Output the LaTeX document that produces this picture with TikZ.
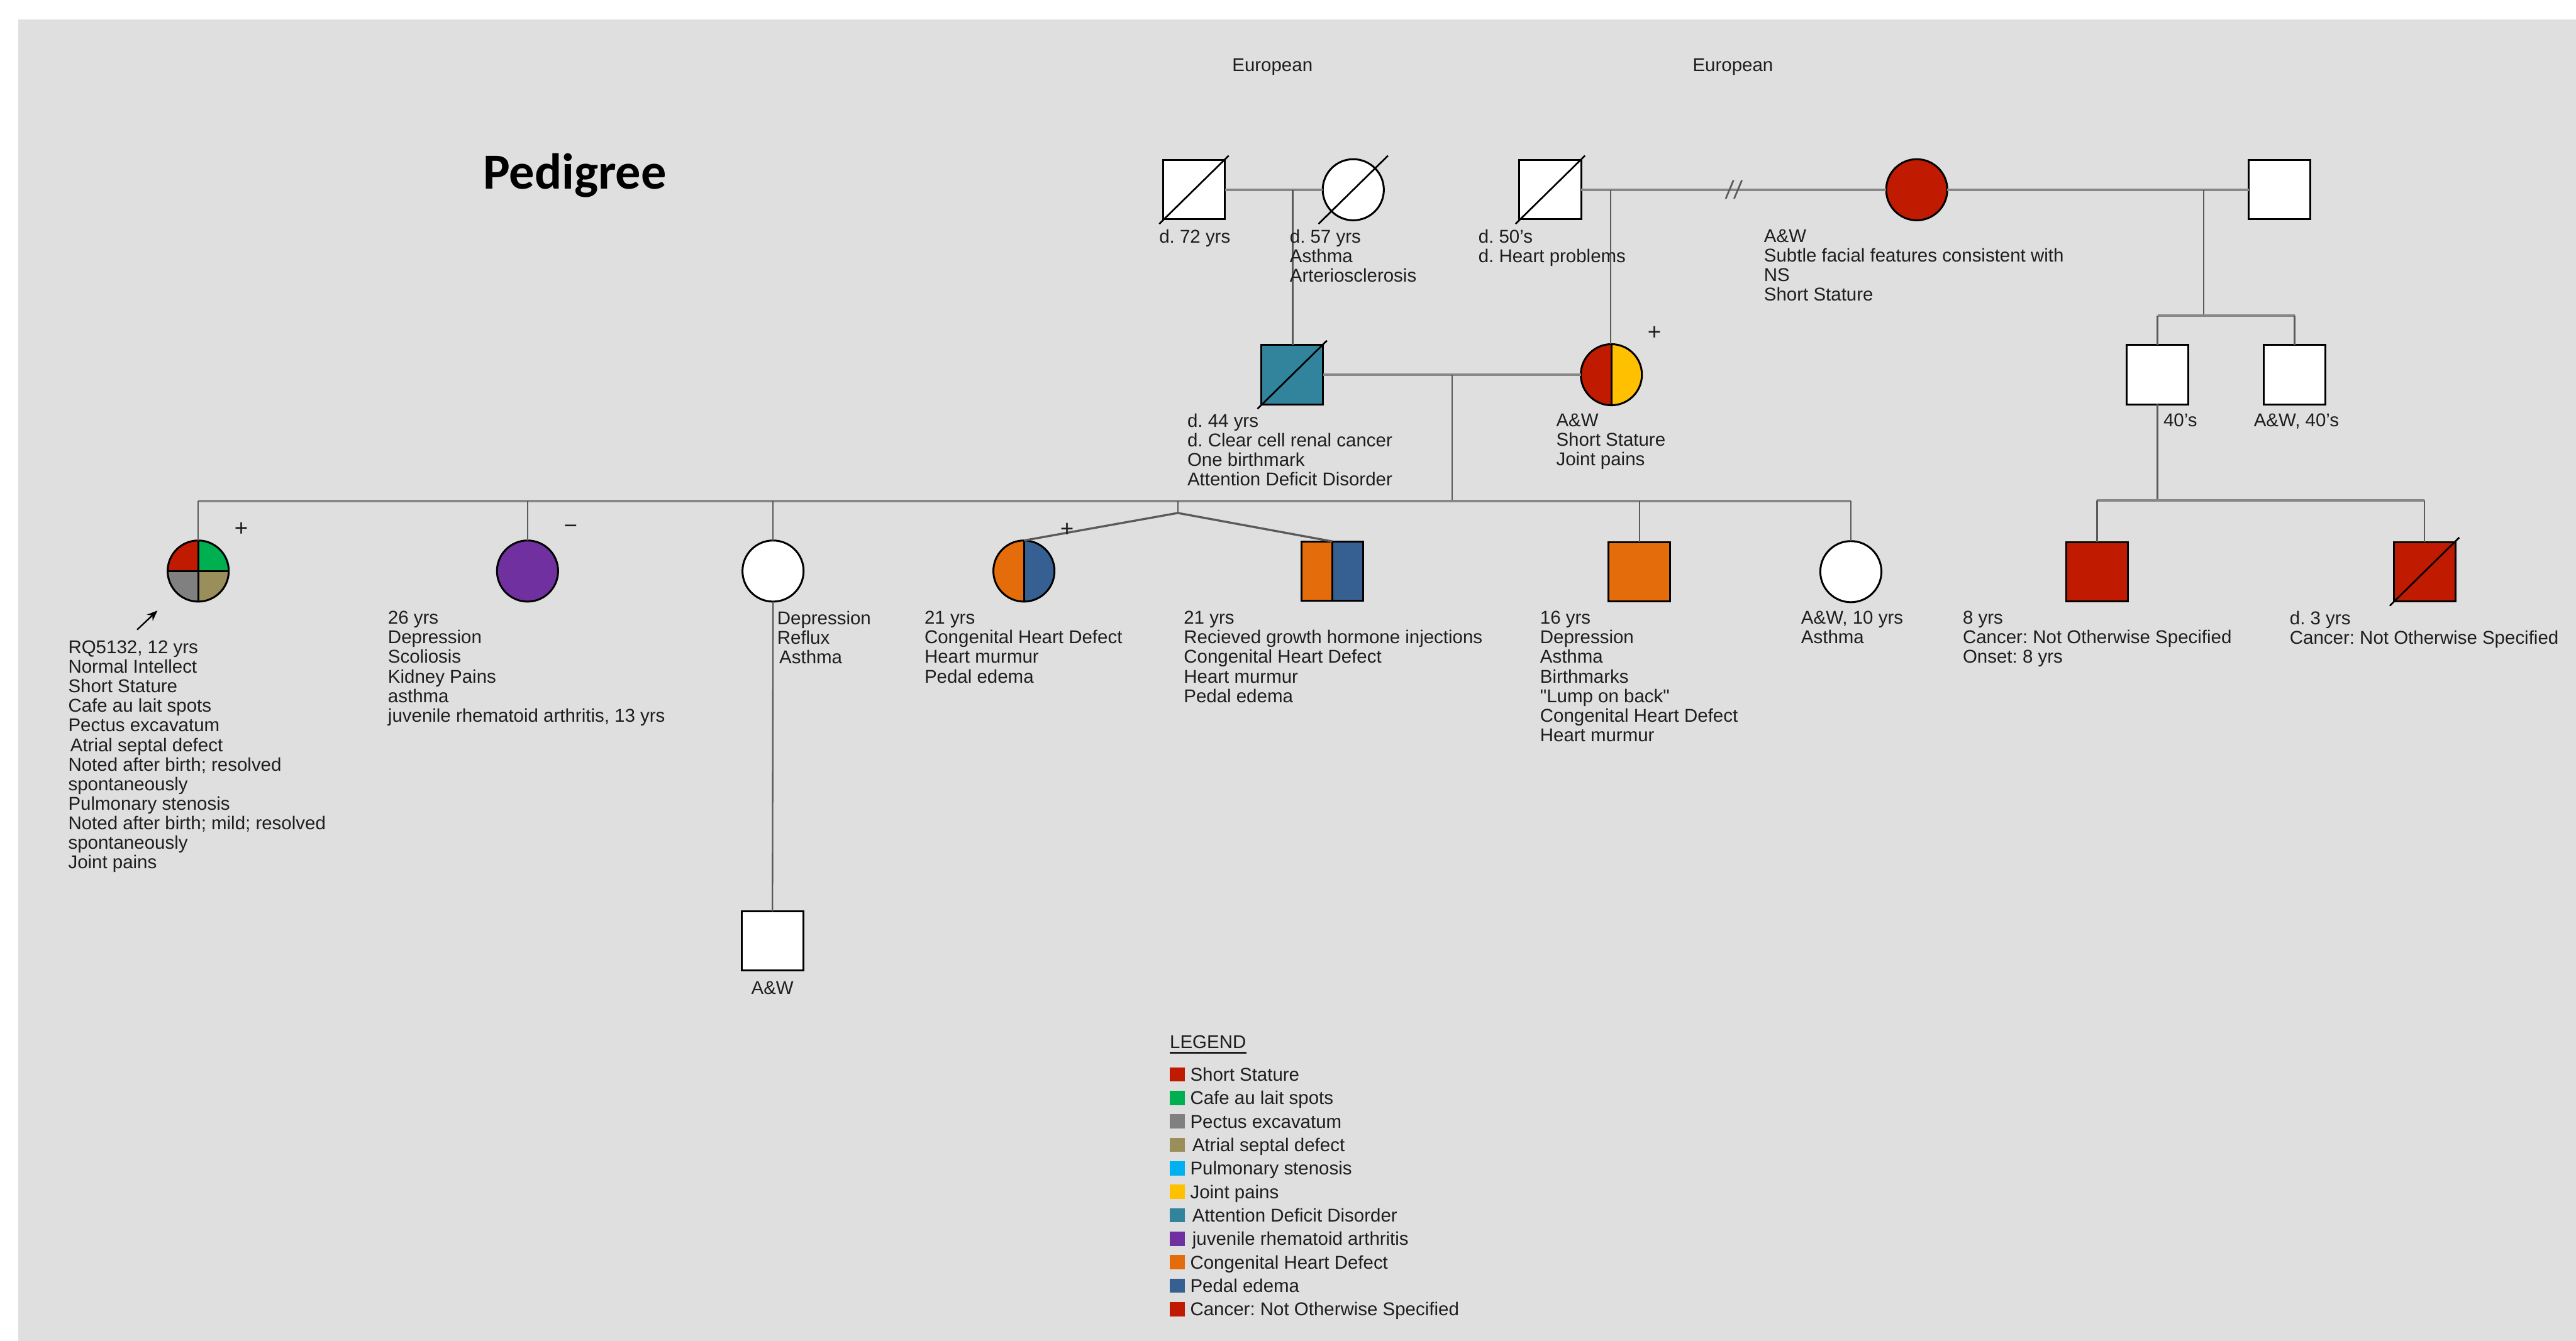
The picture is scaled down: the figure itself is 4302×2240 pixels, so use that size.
\documentclass[tikz,border=0pt]{standalone}
\usepackage{fontspec}
\setmainfont{Liberation Sans}
\newfontfamily\titlefont{Carlito}
\usetikzlibrary{calc,arrows.meta}
\definecolor{bg}{HTML}{DFDFDF}
\definecolor{txt}{HTML}{1E1E1E}
\definecolor{ssred}{HTML}{C01A00}
\definecolor{cafe}{HTML}{00B050}
\definecolor{pectus}{HTML}{808080}
\definecolor{asd}{HTML}{9A8F5A}
\definecolor{pulm}{HTML}{00B0F0}
\definecolor{joint}{HTML}{FFC000}
\definecolor{addc}{HTML}{31849B}
\definecolor{jra}{HTML}{7030A0}
\definecolor{chd}{HTML}{E46C0A}
\definecolor{pedal}{HTML}{376092}
\definecolor{cancer}{HTML}{C01A00}
\definecolor{cpl}{HTML}{878787}
\definecolor{dsc}{HTML}{5A5A5A}
\newcommand\lblfont{\fontsize{8.8}{9.3}\selectfont}
\frenchspacing
\begin{document}
\begin{tikzpicture}[x=0.01cm,y=-0.01cm,
  sym/.style={draw=black, line width=0.9pt, inner sep=0pt, outer sep=0pt, fill=white},
  male/.style={sym, rectangle, minimum width=1.03cm, minimum height=0.99cm},
  female/.style={sym, circle, minimum size=1.02cm},
  halves/.style 2 args={path picture={
     \fill[#1] (path picture bounding box.south west) rectangle (path picture bounding box.north);
     \fill[#2] (path picture bounding box.south) rectangle (path picture bounding box.north east);
     \draw[line width=0.9pt] (path picture bounding box.north) -- (path picture bounding box.south);}},
  quarters/.style n args={4}{path picture={
     \fill[#1] (path picture bounding box.center) rectangle (path picture bounding box.north west);
     \fill[#2] (path picture bounding box.center) rectangle (path picture bounding box.north east);
     \fill[#3] (path picture bounding box.center) rectangle (path picture bounding box.south west);
     \fill[#4] (path picture bounding box.center) rectangle (path picture bounding box.south east);
     \draw[line width=0.9pt] (path picture bounding box.north) -- (path picture bounding box.south)
        (path picture bounding box.west) -- (path picture bounding box.east);}},
  couple/.style={draw=cpl, line width=1.3pt},
  sibline/.style={draw=cpl, line width=1.3pt},
  desc/.style={draw=dsc, line width=0.7pt},
  twinline/.style={draw=dsc, line width=1.0pt},
  slash/.style={draw=black, line width=0.8pt},
  lbl/.style={anchor=north west, align=left, inner sep=0pt, outer sep=0pt, font=\lblfont, text=txt},
  sign/.style={inner sep=0pt, font=\fontsize{11}{11}\selectfont, text=txt},
  lgbox/.style={inner sep=0pt, minimum width=0.25cm, minimum height=0.24cm},
  lgtxt/.style={anchor=base west, inner sep=0pt, font=\lblfont, text=txt}
]
\useasboundingbox (0,0) rectangle (4302,2240);
\fill[bg] (30,33) rectangle (4302,2240);

% title and ethnicity
\node[anchor=base, inner sep=0pt, font=\titlefont\bfseries\fontsize{24}{24}\selectfont] (title) at (960,316) {Pedigree};
\node[anchor=base, inner sep=0pt, font=\lblfont, text=txt] (eu1) at (2125,119) {European};
\node[anchor=base, inner sep=0pt, font=\lblfont, text=txt] (eu2) at (2894,119) {European};

% generation I
\node[male] (gf1) at (1994,317) {};
\node[female] (gm1) at (2260,317) {};
\node[male] (gf2) at (2589,317) {};
\node[female, fill=ssred] (gm2) at (3201,317) {};
\node[male] (p2) at (3807,317) {};

% generation II
\node[male, fill=addc] (fa) at (2158,626) {};
\node[female, halves={ssred}{joint}] (mo) at (2691,626) {};
\node[male] (u1) at (3603,626) {};
\node[male] (u2) at (3832,626) {};

% generation III
\node[female, quarters={ssred}{cafe}{pectus}{asd}] (pr) at (331,954) {};
\node[female, fill=jra] (s2) at (881,954) {};
\node[female] (s3) at (1291,954) {};
\node[female, halves={chd}{pedal}] (t1) at (1710,954) {};
\node[male, halves={chd}{pedal}] (t2) at (2225,954) {};
\node[male, fill=chd] (s6) at (2738,955) {};
\node[female] (s7) at (3091,955) {};
\node[male, fill=cancer] (k1) at (3502,955) {};
\node[male, fill=cancer] (k2) at (4049,955) {};

% generation IV
\node[male] (g4) at (1290,1572) {};

% deceased slashes
\foreach \n in {gf1,gm1,gf2,fa,k2}{
  \draw[slash] ($(\n.center)+(-58,57)$) -- ($(\n.center)+(58,-57)$);
}

% couples
\draw[couple] (gf1.east) -- (gm1.west);
\draw[couple] (gf2.east) -- (gm2.west);
\draw[couple] (gm2.east) -- (p2.west);
\draw[couple] (fa.east) -- (mo.west);
% divorce marks
\coordinate (dv1a) at (2882,332); \coordinate (dv1b) at (2895,301);
\coordinate (dv2a) at (2896,332); \coordinate (dv2b) at (2909,301);
\draw[draw=dsc, line width=0.8pt] (dv1a) -- (dv1b) (dv2a) -- (dv2b);

% descents
\coordinate (d1) at (2159,317);
\draw[desc] (d1) -- (d1 |- fa.north);
\coordinate (d2) at (2690,317);
\draw[desc] (d2) -- (d2 |- mo.north);
\coordinate (d3) at (3680,317);
\coordinate (sb3) at (3680,527);
\draw[desc] (d3) -- (sb3);
\draw[sibline] (u1.north |- sb3) -- (u2.north |- sb3);
\draw[desc] (u1.north |- sb3) -- (u1.north);
\draw[desc] (u2.north |- sb3) -- (u2.north);

\coordinate (sb4) at (3603,836);
\draw[desc] (u1.south) -- (u1.south |- sb4);
\draw[sibline] (k1.north |- sb4) -- (k2.north |- sb4);
\draw[desc] (k1.north |- sb4) -- (k1.north);
\draw[desc] (k2.north |- sb4) -- (k2.north);

\coordinate (d5) at (2425,626);
\coordinate (sb5) at (2425,837);
\draw[desc] (d5) -- (sb5);
\draw[sibline] (pr.north |- sb5) -- (s7.north |- sb5);
\foreach \n in {pr,s2,s3,s6,s7}{
  \draw[desc] (\n.north |- sb5) -- (\n.north);
}
\coordinate (tw0) at (1967,837);
\coordinate (tw) at (1967,857);
\draw[desc] (tw0) -- (tw);
\draw[twinline] (tw) -- (t1.north);
\draw[twinline] (tw) -- (t2.north);

\draw[desc] (s3.south) -- (g4.north);

% proband arrow
\coordinate (ar0) at (229,1052);
\coordinate (ar1) at (263,1020);
\draw[draw=black, line width=0.7pt, -{Stealth[length=5pt,width=4pt]}] (ar0) -- (ar1);

% signs
\node[sign] (sg1) at (403,884) {+};
\node[sign] (sg2) at (953,884) {−};
\node[sign] (sg3) at (1782,885) {+};
\node[sign] (sg4) at (2763,557) {+};

% labels
\node[lbl] (lgf1) at (1936,383) {d. 72 yrs};
\node[lbl] (lgm1) at (2154,383) {d. 57 yrs\\Asthma\\Arteriosclerosis};
\node[lbl] (lgf2) at (2469,383) {d. 50's\\d. Heart problems};
\node[lbl] (lgm2) at (2946,383) {A\&W\\Subtle facial features consistent with\\NS\\Short Stature};
\node[lbl] (lu1) at (3613,691) {40's};
\node[lbl] (lu2) at (3764,691) {A\&W, 40's};
\node[lbl] (lfa) at (1983,691) {d. 44 yrs\\d. Clear cell renal cancer\\One birthmark\\Attention Deficit Disorder};
\node[lbl] (lmo) at (2599,691) {A\&W\\Short Stature\\Joint pains};
\node[lbl] (lpr) at (114,1070) {RQ5132, 12 yrs\\Normal Intellect\\Short Stature\\Cafe au lait spots\\Pectus excavatum\\\kern1pt Atrial septal defect\\Noted after birth; resolved\\spontaneously\\Pulmonary stenosis\\Noted after birth; mild; resolved\\spontaneously\\Joint pains};
\node[lbl] (ls2) at (648,1021) {26 yrs\\Depression\\Scoliosis\\Kidney Pains\\asthma\\juvenile rhematoid arthritis, 13 yrs};
\node[lbl] (ls3) at (1298,1021) {Depression\\Reflux\\\kern1pt Asthma};
\node[lbl] (lt1) at (1544,1021) {21 yrs\\Congenital Heart Defect\\Heart murmur\\Pedal edema};
\node[lbl] (lt2) at (1977,1021) {21 yrs\\Recieved growth hormone injections\\Congenital Heart Defect\\Heart murmur\\Pedal edema};
\node[lbl] (ls6) at (2572,1021) {16 yrs\\Depression\\Asthma\\Birthmarks\\{\addfontfeatures{Ligatures=TeXOff}"Lump on back"}\\Congenital Heart Defect\\Heart murmur};
\node[lbl] (ls7) at (3008,1021) {A\&W, 10 yrs\\Asthma};
\node[lbl] (lk1) at (3278,1021) {8 yrs\\Cancer: Not Otherwise Specified\\Onset: 8 yrs};
\node[lbl] (lk2) at (3824,1021) {d. 3 yrs\\Cancer: Not Otherwise Specified};
\node[anchor=base, inner sep=0pt, font=\lblfont, text=txt] (lg4) at (1290,1661) {A\&W};

% legend
\node[lgtxt] (lgh) at (1953,1751) {LEGEND};
\draw[draw=txt, line width=0.9pt] (lgh.base west) ++(0,8) coordinate (ul0) -- (ul0 -| lgh.base east);
\foreach \c/\t [count=\i from 0] in {ssred/Short Stature, cafe/Cafe au lait spots, pectus/Pectus excavatum, asd/\kern1pt Atrial septal defect, pulm/Pulmonary stenosis, joint/Joint pains, addc/\kern1pt Attention Deficit Disorder, jra/\kern1pt juvenile rhematoid arthritis, chd/Congenital Heart Defect, pedal/Pedal edema, cancer/Cancer: Not Otherwise Specified}{
  \node[lgbox, fill=\c] (lb\i) at (1966.5,1795+39.2*\i) {};
  \node[lgtxt] (lgt\i) at (1987,1806+39.2*\i) {\t};
}
\end{tikzpicture}
\end{document}
